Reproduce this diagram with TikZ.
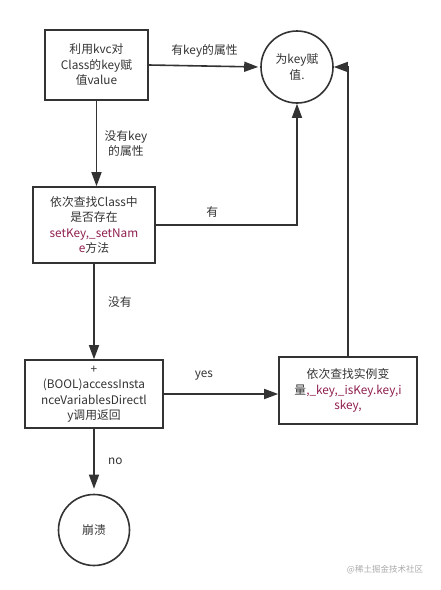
\documentclass[tikz,border=0pt]{standalone}
\usepackage{fontspec}
\setmainfont{Noto Sans CJK SC}
\usetikzlibrary{arrows.meta}

\definecolor{inkgray}{HTML}{333333}
\definecolor{codered}{HTML}{8E1E4E}
\definecolor{markgray}{HTML}{AAAAAA}

\tikzset{
  flowbox/.style={draw=inkgray, line width=1.6pt, align=center, inner sep=2pt},
  endcircle/.style={draw=inkgray, line width=1.6pt, circle, align=center, inner sep=0pt},
  flow/.style={draw=inkgray, line width=1.6pt, -{Triangle[length=14pt,width=10pt]}},
  flowlabel/.style={text=inkgray, align=center}
}

\begin{document}
\begin{tikzpicture}[x=1pt, y=-1pt, font=\fontsize{11.8}{15.5}\selectfont, text=inkgray]

\useasboundingbox (0,0) rectangle (441,590);

% Boxes
\node[flowbox, minimum width=103pt, minimum height=70pt] (kvcbox) at (96.5,65)
  {利用kvc对\\Class的key赋\\值value};
\node[flowbox, minimum width=122pt, minimum height=76pt] (findset) at (94,225)
  {依次查找Class中\\是否存在\\{\color{codered}setKey,\_setNam}\\{\color{codered}e}方法};
\node[flowbox, minimum width=138pt, minimum height=68pt] (accessbox) at (94,394)
  {+\\(BOOL)accessInsta\\nceVariablesDirectl\\y调用返回};
\node[flowbox, minimum width=138pt, minimum height=67pt] (ivarbox) at (348,390.5)
  {依次查找实例变\\量{\color{codered},\_key,\_isKey.key,i}\\{\color{codered}skey,}};

% Circles
\node[endcircle, minimum size=72pt] (assign) at (297,67) {为key赋\\值.};
\node[endcircle, minimum size=71pt] (crash) at (94,530) {崩溃};

% Connectors
\draw[flow, shorten >=2pt] (kvcbox.east) -- (assign.west)
  node[flowlabel, midway, above=5pt] {有key的属性};
\draw[flow] (kvcbox.south) -- (kvcbox.south |- findset.north)
  node[flowlabel, midway, right=4pt] {没有key\\的属性};
\draw[flow] (findset.east) -| (assign.south)
  node[flowlabel, pos=0.2, above=3pt] {有};
\draw[flow] (findset.south) -- (accessbox.north)
  node[flowlabel, pos=0.4, right=10pt] {没有};
\draw[flow] (accessbox.east) -- (accessbox.east -| ivarbox.west)
  node[flowlabel, pos=0.35, above=10pt] {yes};
\draw[flow] (ivarbox.north) |- (assign.east);
\draw[flow, shorten >=5pt] (accessbox.south) -- (crash.north)
  node[flowlabel, midway, right=10pt] {no};

% Watermark
\node[text=markgray, font=\fontsize{8.5}{10}\selectfont] (mark) at (385,570) {@稀土掘金技术社区};

\end{tikzpicture}
\end{document}
